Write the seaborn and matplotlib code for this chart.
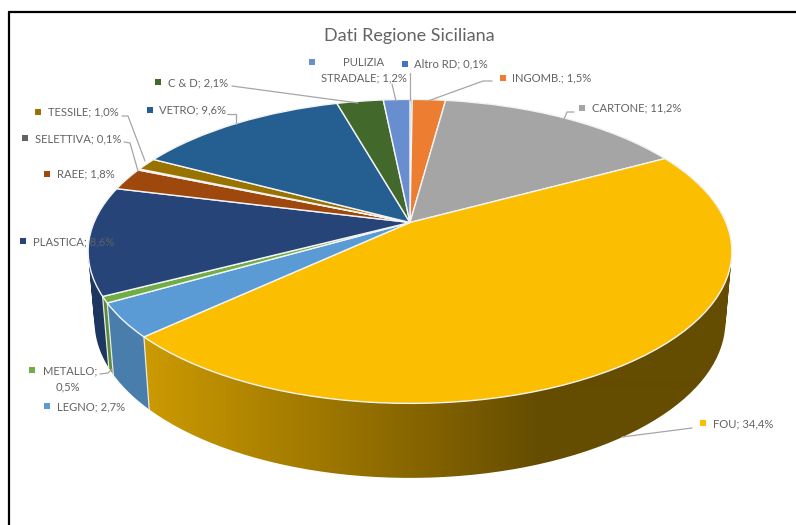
"""Pseudo-3D pie of the Sicilian waste data, in Excel's perspective look."""

import matplotlib

matplotlib.use("Agg")

import matplotlib.pyplot as plt
import numpy as np
import pandas as pd
import seaborn as sns
from matplotlib.path import Path
from matplotlib.transforms import Transform

categories = ["Altro RD", "INGOMB.", "CARTONE", "FOU", "LEGNO", "METALLO", "PLASTICA",
              "RAEE", "SELETTIVA", "TESSILE", "VETRO", "C & D", "PULIZIA STRADALE"]
values = [0.1, 1.5, 11.2, 34.4, 2.7, 0.5, 8.6, 1.8, 0.1, 1.0, 9.6, 2.1, 1.2]
colors = ["#4472C4", "#ED7D31", "#A5A5A5", "#FCBE00", "#5B9BD5", "#70AD47", "#264478",
          "#9E480E", "#636363", "#997300", "#255E91", "#43682B", "#698ED0"]

# layout, all in pixels of the 796x525 picture
CX, CY = 410, 222.5
SCALE_X, SCALE_Y, TILT = 316, 146.5, 0.19
TEXT = "#636363"
LINE = "#a6a6a6"
FONT = "Lato"
SIZE = 8.1

# category -> swatch x, swatch y, text x, text y
label_pos = {
    "Altro RD": (405, 64, 414, 64),
    "INGOMB.": (503, 78, 512, 78),
    "CARTONE": (582, 108, 592, 108),
    "FOU": (703, 423, 713, 424),
    "LEGNO": (47, 406, 57, 407),
    "PLASTICA": (23, 241, 33, 242),
    "RAEE": (47, 174, 57, 174),
    "SELETTIVA": (25, 138, 35, 139),
    "TESSILE": (38, 112, 48, 112),
    "VETRO": (150, 110, 159, 110),
    "C & D": (158, 82, 168, 83),
    "METALLO": (32, 370, 43, 371),
    "PULIZIA STRADALE": (312, 62, 321, 78),
}
leaders = [
    [(232, 86), (358, 103)],
    [(227, 114), (236, 114), (236, 124)],
    [(122, 116), (128, 116), (145, 161)],
    [(124, 142), (130, 143), (138, 171)],
    [(392, 84), (396, 101)],
    [(410, 73), (410, 100)],
    [(492, 81), (483, 81), (428, 101)],
    [(574, 112), (567, 112), (564, 119)],
    [(100, 374), (108, 373), (112, 369)],
    [(692, 428), (622, 437)],
]


class TiltedDisc(Transform):
    """Projects the unit circle of the pie onto the tilted disc."""

    input_dims = 2
    output_dims = 2

    def transform_non_affine(self, xy):
        xy = np.asarray(xy, dtype=float)
        w = 1 + TILT * xy[:, 1]
        return np.column_stack([CX + SCALE_X * xy[:, 0] / w, CY - SCALE_Y * xy[:, 1] / w])


def to_bottom(pts):
    return np.column_stack([409 + (pts[:, 0] - 409) * 0.98, 322 + (pts[:, 1] - 252) * 1.03])


def wall_shade(x):
    return np.interp(x, [145, 400, 540], [0.81, 0.55, 0.40])


def wall_path(top, bottom):
    # quads all wound the same way, so their union fills past the tangent points
    quads = []
    for i in range(len(top) - 1):
        q = np.array([top[i], top[i + 1], bottom[i + 1], bottom[i], top[i]])
        area = np.sum(q[:-1, 0] * q[1:, 1] - q[1:, 0] * q[:-1, 1])
        quads.append(Path(q if area > 0 else q[::-1], closed=True))
    return Path.make_compound_path(*quads)


sns.set_theme(style="white")
plt.rcParams["font.family"] = [FONT, "DejaVu Sans"]

fig = plt.figure(figsize=(7.96, 5.25), dpi=100)
ax = fig.add_axes([0, 0, 1, 1])

wedges, _ = ax.pie(values, colors=sns.color_palette(colors), startangle=90, counterclock=False,
                   wedgeprops={"edgecolor": "#f4f4f4", "linewidth": 1.0, "zorder": 3})

disc = TiltedDisc()
for w in wedges:
    w.set_transform(disc + ax.transData)
    w.set_clip_on(False)

# side wall: a horizontal shading image per slice, clipped to that slice's wall
shade = wall_shade(np.arange(796) + 0.5)[None, :, None]
for w, color in zip(wedges, colors):
    theta = np.radians(np.linspace(w.theta1, w.theta2, 80))
    top = disc.transform_non_affine(np.column_stack([np.cos(theta), np.sin(theta)]))
    bottom = to_bottom(top)
    rgb = shade * np.array(matplotlib.colors.to_rgb(color))
    img = ax.imshow(rgb, extent=[0, 796, 525, 0], aspect="auto", zorder=1, interpolation="bilinear")
    img.set_clip_path(wall_path(top, bottom), transform=ax.transData)
    ax.plot([top[0, 0], bottom[0, 0]], [top[0, 1], bottom[0, 1]], color="#e8e8e8", lw=0.9, zorder=2)

ax.set_aspect("auto")
ax.set_xlim(0, 796)
ax.set_ylim(525, 0)

for pts in leaders:
    xs, ys = zip(*pts)
    ax.plot(xs, ys, color=LINE, lw=0.9, zorder=4)

swatches = pd.DataFrame({
    "x": [label_pos[c][0] for c in categories],
    "y": [label_pos[c][1] for c in categories],
    "cat": categories,
})
sns.scatterplot(data=swatches, x="x", y="y", hue="cat", hue_order=categories, palette=colors,
                marker="s", s=14, linewidth=0, legend=False, ax=ax, zorder=5)
ax.axis("off")

for cat, val in zip(categories, values):
    pct = f"{val:.1f}%".replace(".", ",")
    _, _, tx, ty = label_pos[cat]
    if cat == "PULIZIA STRADALE":
        ax.text(364, 62, "PULIZIA", color=TEXT, fontsize=SIZE, ha="center", va="center", zorder=6)
        ax.text(tx, ty, f"STRADALE; {pct}", color=TEXT, fontsize=SIZE, va="center", zorder=6)
    elif cat == "METALLO":
        ax.text(tx, ty, "METALLO;", color=TEXT, fontsize=SIZE, va="center", zorder=6)
        ax.text(56, 387, pct, color=TEXT, fontsize=SIZE, va="center", zorder=6)
    else:
        ax.text(tx, ty, f"{cat}; {pct}", color=TEXT, fontsize=SIZE, va="center", zorder=6)

ax.text(409, 36.5, "Dati Regione Siciliana", color=TEXT, fontsize=13, ha="center", va="center")

# the frame of the pasted chart: only top and left are in the crop
ax.plot([9, 796], [12, 12], color="black", lw=1.6, clip_on=False)
ax.plot([9, 9], [12, 525], color="black", lw=1.6, clip_on=False)

fig.savefig("out.png", dpi=100)
